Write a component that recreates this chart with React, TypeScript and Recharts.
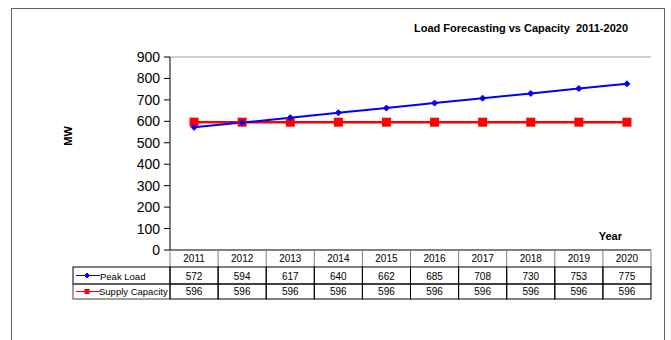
import React from "react";
import { LineChart, Line, XAxis, YAxis, ReferenceLine } from "recharts";

const years = ["2011", "2012", "2013", "2014", "2015", "2016", "2017", "2018", "2019", "2020"];
const peakLoad = [572, 594, 617, 640, 662, 685, 708, 730, 753, 775];
const supplyCapacity = [596, 596, 596, 596, 596, 596, 596, 596, 596, 596];
const yTicks = [0, 100, 200, 300, 400, 500, 600, 700, 800, 900];

const data = years.map((year, i) => ({
  year,
  peak: peakLoad[i],
  supply: supplyCapacity[i],
}));

const FONT = "'Liberation Sans', Arial, sans-serif";
const BLUE = "#0000FF";
const RED = "#FF0000";

// layout of the data table under the plot
const PLOT_LEFT = 170;
const PLOT_RIGHT = 651;
const CELL_W = (PLOT_RIGHT - PLOT_LEFT) / years.length;
const ROW0 = 250;
const ROW1 = 267;
const ROW2 = 284;
const ROW3 = 299;
const LEGEND_LEFT = 73;

function Diamond(props: any) {
  const { cx, cy, r = 4.5 } = props;
  if (cx == null || cy == null) return null;
  return (
    <path
      d={`M${cx},${cy - r}L${cx + r},${cy}L${cx},${cy + r}L${cx - r},${cy}Z`}
      fill={BLUE}
      stroke={BLUE}
    />
  );
}

function Square(props: any) {
  const { cx, cy } = props;
  if (cx == null || cy == null) return null;
  return <rect x={cx - 4.5} y={cy - 4.5} width={9} height={9} fill={RED} />;
}

function TableTick(props: any) {
  const { x, payload, index } = props;
  const left = x - CELL_W / 2;
  const right = x + CELL_W / 2;
  const i = years.indexOf(payload.value);
  const txt = { fontFamily: FONT, fontSize: 10, fill: "#000", textAnchor: "middle" as const };
  const mid1 = (ROW1 + ROW2) / 2;
  const mid2 = (ROW2 + ROW3) / 2;
  return (
    <g>
      {index === 0 && (
        <g>
          <line x1={left} y1={ROW0} x2={left} y2={ROW1} stroke="#808080" />
          <rect x={LEGEND_LEFT} y={ROW1} width={left - LEGEND_LEFT} height={ROW2 - ROW1} fill="none" stroke="#000" />
          <rect x={LEGEND_LEFT} y={ROW2} width={left - LEGEND_LEFT} height={ROW3 - ROW2} fill="none" stroke="#404040" />
          <line x1={76} y1={mid1} x2={100} y2={mid1} stroke={BLUE} strokeWidth={1} />
          <Diamond cx={87} cy={mid1} r={2.5} />
          <text x={100} y={ROW2 - 4.5} fontFamily={FONT} fontSize={9.5} fill="#000">Peak Load</text>
          <line x1={76} y1={mid2} x2={100} y2={mid2} stroke={RED} strokeWidth={1} />
          <rect x={84.5} y={mid2 - 2.5} width={5} height={5} fill={RED} />
          <text x={99} y={ROW3 - 4} fontFamily={FONT} fontSize={9.5} fill="#000">Supply Capacity</text>
        </g>
      )}
      <line x1={right} y1={ROW0} x2={right} y2={ROW1} stroke="#808080" />
      <text x={x} y={ROW1 - 5} {...txt}>{payload.value}</text>
      <rect x={left} y={ROW1} width={CELL_W} height={ROW2 - ROW1} fill="none" stroke="#000" />
      <text x={x} y={ROW2 - 4.5} {...txt}>{peakLoad[i]}</text>
      <rect x={left} y={ROW2} width={CELL_W} height={ROW3 - ROW2} fill="none" stroke="#000" />
      <text x={x} y={ROW3 - 4} {...txt}>{supplyCapacity[i]}</text>
    </g>
  );
}

export default function App() {
  return (
    <div style={{ position: "absolute", left: 0, top: 0, width: 671, height: 340, background: "#fff" }}>
      <div
        style={{
          position: "absolute",
          left: 11,
          top: 8,
          width: 654,
          height: 340,
          borderLeft: "1px solid #606060",
          borderTop: "1px solid #606060",
          borderRight: "1px solid #606060",
          boxSizing: "border-box",
        }}
      />
      <div style={{ position: "absolute", left: 0, top: 0 }}>
        <LineChart width={671} height={340} data={data} margin={{ top: 57, right: 20, left: 110, bottom: 40 }}>
          <XAxis
            dataKey="year"
            padding={{ left: CELL_W / 2, right: CELL_W / 2 }}
            axisLine={{ stroke: "#000", strokeWidth: 1 }}
            tickLine={false}
            tickSize={0}
            tickMargin={0}
            height={50}
            interval={0}
            tick={<TableTick />}
          />
          <YAxis
            yAxisId="l"
            domain={[0, 900]}
            ticks={yTicks}
            width={60}
            axisLine={{ stroke: "#000" }}
            tickLine={{ stroke: "#000" }}
            tickSize={6}
            tickMargin={4}
            tick={{ fontFamily: FONT, fontSize: 14, fill: "#000" }}
          />
          <YAxis yAxisId="r" orientation="right" domain={[0, 900]} width={0} tick={false} tickLine={false} axisLine={{ stroke: "#a0a0a0" }} />
          <ReferenceLine yAxisId="l" y={900} stroke="#a0a0a0" />
          <Line
            yAxisId="l"
            dataKey="supply"
            stroke={RED}
            strokeWidth={2.5}
            dot={<Square />}
            isAnimationActive={false}
          />
          <Line
            yAxisId="l"
            dataKey="peak"
            stroke={BLUE}
            strokeWidth={2}
            dot={<Diamond />}
            isAnimationActive={false}
          />
          <text x={628} y={32} textAnchor="end" fontFamily={FONT} fontSize={11} fontWeight="bold" fill="#000">
            Load Forecasting vs Capacity{"\u00a0\u00a0"}2011-2020
          </text>
          <text x={622} y={240} textAnchor="end" fontFamily={FONT} fontSize={11} fontWeight="bold" fill="#000">
            Year
          </text>
          <text
            x={72}
            y={136}
            textAnchor="middle"
            transform="rotate(-90 72 136)"
            fontFamily={FONT}
            fontSize={11}
            fontWeight="bold"
            fill="#000"
          >
            MW
          </text>
        </LineChart>
      </div>
    </div>
  );
}
